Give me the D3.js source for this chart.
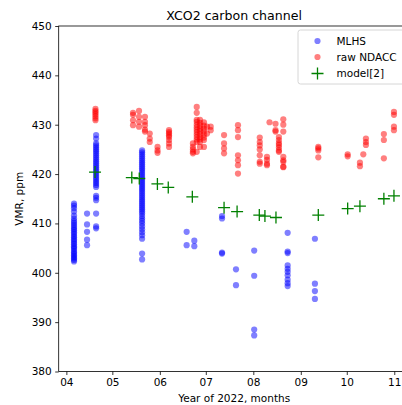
<!DOCTYPE html>
<html>
<head>
<meta charset="utf-8">
<script src="https://cdn.jsdelivr.net/npm/d3@7"></script>
<style>
  html, body { margin: 0; padding: 0; background: #fff; overflow: hidden; }
  svg { display: block; font-family: "DejaVu Sans", sans-serif; }
</style>
</head>
<body>
<div id="chart"></div>
<script>
// MLHS retrievals: [observation time (UTC, "YYYY-MM-DD HH"), VMR values in ppm]
const mlhs = [
  ["2022-04-06 00", [414.0, 413.6, 413.1, 412.4, 411.6, 411.0, 410.5, 410.1, 409.7, 409.3, 408.9, 408.6, 408.2,
                     407.9, 407.5, 407.2, 406.8, 406.5, 406.1, 405.8, 405.4, 405.1, 404.8, 404.4, 404.1, 403.8,
                     403.5, 403.2, 402.9, 402.6, 402.3]],
  ["2022-04-14 12", [412.0, 409.8, 408.3, 406.7, 405.6]],
  ["2022-04-20 10", [427.9, 427.2, 426.2, 425.8, 425.4, 425.0, 424.6, 424.2, 423.8, 423.4, 423.0, 422.6, 422.2,
                     421.8, 421.4, 421.0, 420.6, 420.2, 419.8, 419.4, 419.0, 418.6, 418.2, 417.8, 417.4,
                     415.6, 415.2, 414.7, 412.0, 409.4, 409.0]],
  ["2022-05-20 10", [424.8, 424.4, 424.0, 423.6, 423.2, 422.8, 422.4, 422.0, 421.6, 421.2, 420.8, 420.4, 420.0,
                     419.6, 419.2, 418.8, 418.4, 418.0, 417.6, 417.2, 416.8, 416.4, 416.0, 415.6, 415.2, 414.8,
                     414.4, 414.0, 413.6, 413.2, 412.8, 412.4, 412.0, 411.5, 411.0, 410.5, 410.0, 409.4, 408.8,
                     408.2, 407.6, 406.9, 403.9, 402.7]],
  ["2022-06-18 12", [408.3, 405.6]],
  ["2022-06-23 12", [406.5, 405.4]],
  ["2022-07-11 14", [411.5, 411.0, 404.1, 403.9]],
  ["2022-07-20 17", [400.7, 397.5]],
  ["2022-08-01 14", [404.5, 399.4, 388.5, 387.3]],
  ["2022-08-23 10", [408.1, 404.3, 404.0, 401.5, 400.8, 400.2, 399.5, 398.6, 397.9, 397.3]],
  ["2022-09-10 05", [406.9, 397.8, 396.3, 394.7]]
];

// Raw NDACC measurements: [observation time, VMR values in ppm]
const ndacc = [
  ["2022-04-20 00", [433.2, 432.8, 432.5, 432.1, 431.7, 431.3, 430.9]],
  ["2022-05-14 12", [432.4, 432.0, 430.9, 429.9]],
  ["2022-05-18 10", [432.8, 431.6, 430.6, 429.6]],
  ["2022-05-22 07", [431.6, 430.6, 429.9, 429.0, 428.6]],
  ["2022-05-25 10", [428.2, 427.2, 426.5]],
  ["2022-05-30 12", [425.5, 424.8, 424.3]],
  ["2022-06-07 00", [428.9, 428.5, 428.2, 427.8, 427.5, 426.9, 426.2, 425.5]],
  ["2022-06-22 14", [426.2, 425.5, 425.0, 424.5, 424.2]],
  ["2022-06-25 02", [433.6, 432.4, 431.0, 430.6, 430.0, 429.5, 429.0, 428.5, 428.0, 427.5, 427.0, 426.5, 424.5]],
  ["2022-06-27 05", [431.0, 430.4, 429.8, 429.2, 428.7, 428.1, 427.5, 427.0, 426.5, 425.5]],
  ["2022-06-29 19", [430.5, 429.8, 429.2, 428.6, 428.0, 427.4, 426.9, 425.5]],
  ["2022-07-01 19", [429.6, 428.2]],
  ["2022-07-04 05", [429.6, 428.9]],
  ["2022-07-12 22", [427.9, 426.2, 425.2, 424.2]],
  ["2022-07-22 00", [429.9, 428.9, 427.5, 423.8, 422.8, 421.8, 420.1]],
  ["2022-08-05 05", [427.4, 426.5, 425.8, 425.0, 423.8, 422.5, 422.1]],
  ["2022-08-09 22", [423.5, 422.9, 422.1, 421.8]],
  ["2022-08-11 14", [430.5]],
  ["2022-08-15 12", [430.2, 428.9, 428.6]],
  ["2022-08-17 17", [427.5, 426.9, 426.3, 425.9, 425.4, 424.8, 424.5]],
  ["2022-08-20 14", [431.1, 430.0, 428.6, 423.5, 422.8, 422.5, 421.5, 421.4]],
  ["2022-09-12 10", [425.5, 425.2, 424.8, 423.4]],
  ["2022-10-01 14", [424.0, 423.6]],
  ["2022-10-09 14", [422.3, 421.6]],
  ["2022-10-11 19", [424.0]],
  ["2022-10-13 12", [427.2, 426.5, 425.9]],
  ["2022-10-25 05", [428.1, 426.9, 423.2]],
  ["2022-10-31 19", [432.6, 432.0, 429.6, 428.9]]
];

// Model values at the NDACC observation times
const modelTimes = ["2022-04-19 17", "2022-05-13 17", "2022-05-18 14", "2022-05-30 10", "2022-06-06 12",
                    "2022-06-22 05", "2022-07-12 22", "2022-07-21 10", "2022-08-04 22", "2022-08-08 14",
                    "2022-08-15 19", "2022-09-12 10", "2022-10-01 14", "2022-10-09 14", "2022-10-25 05",
                    "2022-10-31 19"];
const modelValues = [420.4, 419.3, 419.1, 418.0, 417.3, 415.4, 413.2, 412.4, 411.7, 411.5,
                     411.2, 411.7, 413.0, 413.5, 415.0, 415.6];

const yTicks = [380, 390, 400, 410, 420, 430, 440, 450];
const legendLabels = ["MLHS", "raw NDACC", "model[2]"];
const titleText = "XCO2 carbon channel";
const xLabel = "Year of 2022, months";
const yLabel = "VMR, ppm";

(function draw() {
  const W = 402, H = 405;
  const FS = 10.5;
  const parse = d3.utcParse("%Y-%m-%d %H");

  // Axes box; the right edge of the axes runs slightly past the figure edge
  const axL = 58.7, axT = 26, axB = 371.5, axR = 409.6;

  const x = d3.scaleUtc()
    .domain([new Date(Date.UTC(2022, 2, 27)), new Date(Date.UTC(2022, 10, 11))])
    .range([axL, axR]);
  const y = d3.scaleLinear().domain([380, 450]).range([axB, axT]);

  const svg = d3.select("#chart").append("svg")
    .attr("width", W).attr("height", H);

  const flat = (groups) => groups.flatMap(([t, vals]) => vals.map(v => ({ t: parse(t), v })));
  const mlhsPts = flat(mlhs);
  const ndaccPts = flat(ndacc);
  const modelPts = modelTimes.map((t, i) => ({ t: parse(t), v: modelValues[i] }));

  const plot = svg.append("g");
  const R = 3.1;

  plot.selectAll("circle.mlhs").data(mlhsPts).join("circle")
    .attr("class", "mlhs")
    .attr("cx", d => x(d.t)).attr("cy", d => y(d.v)).attr("r", R)
    .attr("fill", "blue").attr("fill-opacity", 0.5);

  plot.selectAll("circle.ndacc").data(ndaccPts).join("circle")
    .attr("class", "ndacc")
    .attr("cx", d => x(d.t)).attr("cy", d => y(d.v)).attr("r", R)
    .attr("fill", "red").attr("fill-opacity", 0.5);

  const plusPath = (s) => `M${-s},0H${s}M0,${-s}V${s}`;
  plot.selectAll("path.model").data(modelPts).join("path")
    .attr("class", "model")
    .attr("transform", d => `translate(${x(d.t)},${y(d.v)})`)
    .attr("d", plusPath(6))
    .attr("stroke", "green").attr("stroke-width", 1.3).attr("fill", "none");

  // Axes
  const xAxis = d3.axisBottom(x)
    .ticks(d3.utcMonth.every(1))
    .tickFormat(d3.utcFormat("%m"))
    .tickSizeOuter(0).tickSize(3.5).tickPadding(3.5);
  const yAxis = d3.axisLeft(y)
    .tickValues(yTicks)
    .tickSizeOuter(0).tickSize(3.5).tickPadding(3.5);

  const gx = svg.append("g").attr("transform", `translate(0,${axB})`).call(xAxis);
  const gy = svg.append("g").attr("transform", `translate(${axL},0)`).call(yAxis);
  [gx, gy].forEach(g => {
    g.select(".domain").remove();
    g.selectAll(".tick line").attr("stroke", "#000").attr("stroke-width", 0.8);
    g.selectAll(".tick text").attr("font-size", FS).attr("fill", "#000")
      .attr("font-family", "DejaVu Sans, sans-serif");
  });

  // Frame (spines)
  svg.append("rect")
    .attr("x", axL).attr("y", axT)
    .attr("width", axR - axL).attr("height", axB - axT)
    .attr("fill", "none").attr("stroke", "#000").attr("stroke-width", 0.8);

  // Titles
  svg.append("text").attr("x", (axL + axR) / 2).attr("y", 19.5)
    .attr("text-anchor", "middle").attr("font-size", 12.6).attr("fill", "#000").text(titleText);
  svg.append("text").attr("x", (axL + axR) / 2).attr("y", 402)
    .attr("text-anchor", "middle").attr("font-size", FS).attr("fill", "#000").text(xLabel);
  svg.append("text")
    .attr("transform", `translate(23,${(axT + axB) / 2}) rotate(-90)`)
    .attr("text-anchor", "middle").attr("font-size", FS).attr("fill", "#000").text(yLabel);

  // Legend
  const lg = svg.append("g").attr("transform", "translate(298,30)");
  lg.append("rect").attr("x", 0).attr("y", 0).attr("width", 130).attr("height", 54)
    .attr("rx", 2.5).attr("fill", "#fff").attr("fill-opacity", 0.8)
    .attr("stroke", "#ccc").attr("stroke-width", 0.8);
  const rows = [11, 27, 43.5];
  lg.append("circle").attr("cx", 19.5).attr("cy", rows[0]).attr("r", R)
    .attr("fill", "blue").attr("fill-opacity", 0.5);
  lg.append("circle").attr("cx", 19.5).attr("cy", rows[1]).attr("r", R)
    .attr("fill", "red").attr("fill-opacity", 0.5);
  lg.append("path").attr("transform", `translate(19.5,${rows[2]})`).attr("d", plusPath(6))
    .attr("stroke", "green").attr("stroke-width", 1.3).attr("fill", "none");
  legendLabels.forEach((lab, i) => {
    lg.append("text").attr("x", 38.5).attr("y", rows[i]).attr("dy", "0.35em")
      .attr("font-size", FS).attr("fill", "#000").text(lab);
  });
})();
</script>
</body>
</html>
